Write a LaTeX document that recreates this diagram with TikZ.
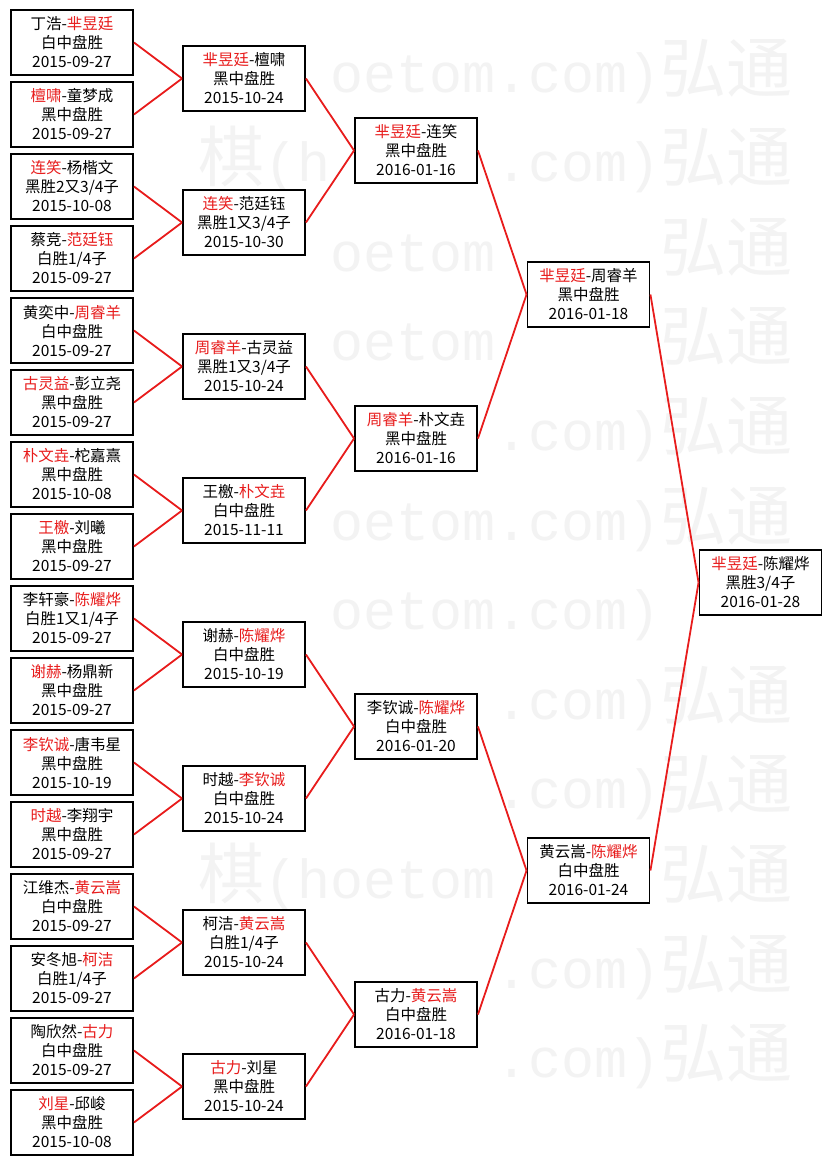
\documentclass[tikz,border=0pt]{standalone}
\usepackage{fontspec}
\setmainfont{Noto Sans CJK SC}
\newfontfamily\wmcjk{Noto Sans CJK SC}
\newfontfamily\wmlat{Liberation Mono}
\definecolor{winred}{RGB}{232,28,28}
\definecolor{wmgray}{RGB}{243,243,243}
\newcommand\W[1]{\textcolor{winred}{#1}}
\begin{document}
\begin{tikzpicture}[x=1pt,y=-1pt,
  match/.style={draw=black, line width=1.9pt, fill=white, minimum width=122pt,
    minimum height=65pt, inner sep=0pt, align=center,
    font=\fontsize{15.5}{19}\selectfont},
  conn/.style={draw=winred, line width=1.8pt},
  wmc/.style={anchor=base west, inner sep=0pt, text=wmgray, font=\fontsize{66}{66}\selectfont\wmcjk},
  wml/.style={anchor=base west, inner sep=0pt, text=wmgray, font=\fontsize{55}{55}\selectfont\wmlat}
]
\useasboundingbox (0,0) rectangle (832,1165);
\fill[white] (0,0) rectangle (832,1165);

% faint watermark "弘通围棋(hoetom.com)": only the glyphs not hidden by the boxes
\foreach \k in {0,...,11}{
  \pgfmathsetmacro\yb{92+89.6*\k}
  \foreach \P in {0,660}{
    \foreach \x/\ch/\w/\f [count=\g] in {0/弘/66/wmc,66/通/66/wmc,132/围/66/wmc,198/棋/66/wmc,
        264/(/33/wml,297/h/33/wml,330/o/33/wml,363/e/33/wml,396/t/33/wml,429/o/33/wml,
        462/m/33/wml,495/./33/wml,528/c/33/wml,561/o/33/wml,594/m/33/wml,627/)/33/wml}{
      \pgfmathsetmacro\gx{\P+\x}
      \pgfmathtruncatemacro\wmout{\gx+\w>832}
      \gdef\wmhit{\wmout}
      \foreach \L/\R/\cy in {
          11/133/42.5,11/133/114.5,11/133/186.5,11/133/258.5,11/133/330.5,11/133/402.5,
          11/133/474.5,11/133/546.5,11/133/618.5,11/133/690.5,11/133/762.5,11/133/834.5,
          11/133/906.5,11/133/978.5,11/133/1050.5,11/133/1122.5,
          183/305/78.5,183/305/222.5,183/305/366.5,183/305/510.5,
          183/305/654.5,183/305/798.5,183/305/942.5,183/305/1086.5,
          355/477/150.5,355/477/438.5,355/477/726.5,355/477/1014.5,
          527/650/294.5,527/650/870.5,699/822/582.5}{
        \pgfmathtruncatemacro\wmt{and(and(\gx+\w>\L,\gx<\R),and(\yb+8>\cy-32.5,\yb-55<\cy+32.5))}
        \ifnum\wmt=1 \gdef\wmhit{1}\fi
      }
      \ifnum\wmhit=0
        \node[\f] (wm-\k-\P-\g) at (\gx,\yb) {\ch};
      \fi
    }
  }
}

% column 1
\node[match] (a0)  at (72,42.5)   {丁浩-\W{芈昱廷}\\白中盘胜\\2015-09-27};
\node[match] (a1)  at (72,114.5)  {\W{檀啸}-童梦成\\黑中盘胜\\2015-09-27};
\node[match] (a2)  at (72,186.5)  {\W{连笑}-杨楷文\\黑胜2又3/4子\\2015-10-08};
\node[match] (a3)  at (72,258.5)  {蔡竞-\W{范廷钰}\\白胜1/4子\\2015-09-27};
\node[match] (a4)  at (72,330.5)  {黄奕中-\W{周睿羊}\\白中盘胜\\2015-09-27};
\node[match] (a5)  at (72,402.5)  {\W{古灵益}-彭立尧\\黑中盘胜\\2015-09-27};
\node[match] (a6)  at (72,474.5)  {\W{朴文垚}-柁嘉熹\\黑中盘胜\\2015-10-08};
\node[match] (a7)  at (72,546.5)  {\W{王檄}-刘曦\\黑中盘胜\\2015-09-27};
\node[match] (a8)  at (72,618.5)  {李轩豪-\W{陈耀烨}\\白胜1又1/4子\\2015-09-27};
\node[match] (a9)  at (72,690.5)  {\W{谢赫}-杨鼎新\\黑中盘胜\\2015-09-27};
\node[match] (a10) at (72,762.5)  {\W{李钦诚}-唐韦星\\黑中盘胜\\2015-10-19};
\node[match] (a11) at (72,834.5)  {\W{时越}-李翔宇\\黑中盘胜\\2015-09-27};
\node[match] (a12) at (72,906.5)  {江维杰-\W{黄云嵩}\\白中盘胜\\2015-09-27};
\node[match] (a13) at (72,978.5)  {安冬旭-\W{柯洁}\\白胜1/4子\\2015-09-27};
\node[match] (a14) at (72,1050.5) {陶欣然-\W{古力}\\白中盘胜\\2015-09-27};
\node[match] (a15) at (72,1122.5) {\W{刘星}-邱峻\\黑中盘胜\\2015-10-08};

% column 2
\node[match] (b0) at (244,78.5)   {\W{芈昱廷}-檀啸\\黑中盘胜\\2015-10-24};
\node[match] (b1) at (244,222.5)  {\W{连笑}-范廷钰\\黑胜1又3/4子\\2015-10-30};
\node[match] (b2) at (244,366.5)  {\W{周睿羊}-古灵益\\黑胜1又3/4子\\2015-10-24};
\node[match] (b3) at (244,510.5)  {王檄-\W{朴文垚}\\白中盘胜\\2015-11-11};
\node[match] (b4) at (244,654.5)  {谢赫-\W{陈耀烨}\\白中盘胜\\2015-10-19};
\node[match] (b5) at (244,798.5)  {时越-\W{李钦诚}\\白中盘胜\\2015-10-24};
\node[match] (b6) at (244,942.5)  {柯洁-\W{黄云嵩}\\白胜1/4子\\2015-10-24};
\node[match] (b7) at (244,1086.5) {\W{古力}-刘星\\黑中盘胜\\2015-10-24};

% column 3
\node[match] (c0) at (416,150.5)  {\W{芈昱廷}-连笑\\黑中盘胜\\2016-01-16};
\node[match] (c1) at (416,438.5)  {\W{周睿羊}-朴文垚\\黑中盘胜\\2016-01-16};
\node[match] (c2) at (416,726.5)  {李钦诚-\W{陈耀烨}\\白中盘胜\\2016-01-20};
\node[match] (c3) at (416,1014.5) {古力-\W{黄云嵩}\\白中盘胜\\2016-01-18};

% column 4
\node[match] (d0) at (588.5,294.5) {\W{芈昱廷}-周睿羊\\黑中盘胜\\2016-01-18};
\node[match] (d1) at (588.5,870.5) {黄云嵩-\W{陈耀烨}\\白中盘胜\\2016-01-24};

% final
\node[match] (e0) at (760.5,582.5) {\W{芈昱廷}-陈耀烨\\黑胜3/4子\\2016-01-28};

% connectors
\foreach \i [evaluate=\i as \p using int(\i/2)] in {0,...,15}{
  \draw[conn] (a\i.east) -- (b\p.west);
}
\foreach \i [evaluate=\i as \p using int(\i/2)] in {0,...,7}{
  \draw[conn] (b\i.east) -- (c\p.west);
}
\foreach \i [evaluate=\i as \p using int(\i/2)] in {0,...,3}{
  \draw[conn] (c\i.east) -- (d\p.west);
}
\draw[conn] (d0.east) -- (e0.west);
\draw[conn] (d1.east) -- (e0.west);
\end{tikzpicture}
\end{document}
